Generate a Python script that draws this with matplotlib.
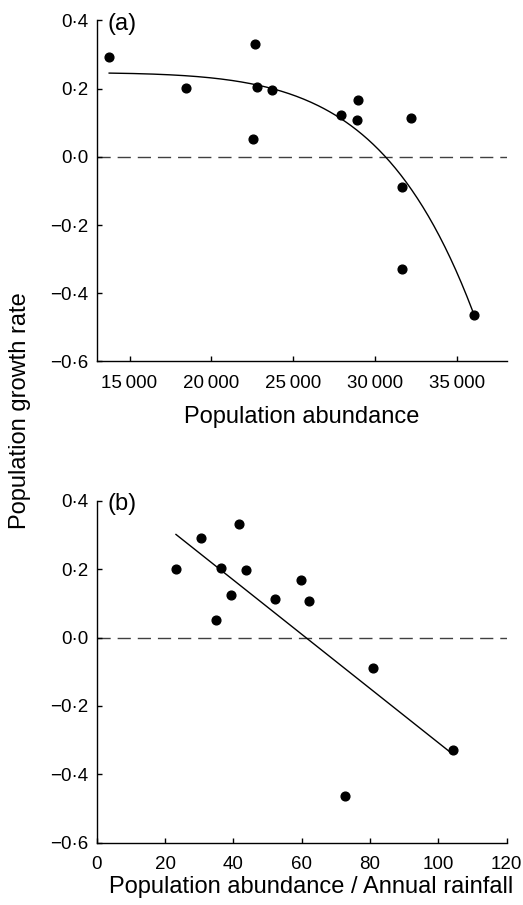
import numpy as np
import matplotlib

matplotlib.use("Agg")
import matplotlib.pyplot as plt
from matplotlib.ticker import FuncFormatter

plt.rcParams["font.family"] = ["Liberation Sans", "DejaVu Sans"]

# growth rate of each year, shared by both panels
growth_rate = [0.292, 0.201, 0.331, 0.204, 0.197, 0.052, 0.124, 0.167, 0.107, 0.113, -0.089, -0.328, -0.464]
# (a) population abundance for the same years
abundance = [13760, 18440, 22670, 22770, 23680, 22530, 27910, 28930, 28880, 32140, 31630, 31590, 36020]
# (b) abundance / annual rainfall for the same years
abundance_per_rain = [30.5, 23.2, 41.7, 36.5, 43.8, 34.9, 39.2, 59.8, 62.0, 52.2, 80.8, 104.2, 72.6]

# theta-logistic fit shown in panel (a)
r_max = 0.247
carrying_capacity = 30610
theta = 6.5

y_ticks = [-0.6, -0.4, -0.2, 0.0, 0.2, 0.4]
x_ticks_a = [15000, 20000, 25000, 30000, 35000]
x_ticks_b = [0, 20, 40, 60, 80, 100, 120]


def rate_label(v, _pos=None):
    s = f"{abs(v):.1f}".replace(".", "\u00b7")
    return ("\u2212" + s) if v < -1e-9 else s


def thousands_label(v, _pos=None):
    return f"{v:,.0f}".replace(",", "\u2009")


def style_axis(ax, tag):
    for side in ("top", "right"):
        ax.spines[side].set_visible(False)
    for side in ("left", "bottom"):
        ax.spines[side].set_linewidth(1.0)
    ax.tick_params(direction="in", length=3.5, width=1.0, labelsize=13.5)
    ax.tick_params(axis="y", pad=6)
    ax.tick_params(axis="x", pad=9.5)
    ax.set_ylim(-0.6, 0.4)
    ax.set_yticks(y_ticks)
    ax.yaxis.set_major_formatter(FuncFormatter(rate_label))
    ax.axhline(0, color="#404040", lw=1.0, ls=(0, (9.5, 5)), zorder=1)
    ax.text(0.026, 0.99, tag, transform=ax.transAxes, ha="left", va="center", fontsize=17)


fig = plt.figure(figsize=(5.23, 9.05), dpi=100)
ax_a = fig.add_axes([0.1849, 0.6006, 0.7839, 0.3768])
ax_b = fig.add_axes([0.1849, 0.0688, 0.7839, 0.3779])

# panel (a)
n = np.asarray(abundance, dtype=float)
n_line = np.linspace(n.min(), n.max(), 200)
r_line = r_max * (1 - (n_line / carrying_capacity) ** theta)
ax_a.plot(n_line, r_line, color="black", lw=1.0, zorder=2)
ax_a.plot(abundance, growth_rate, "o", color="black", ms=6.3, zorder=3)
ax_a.set_xlim(13000, 38000)
ax_a.set_xticks(x_ticks_a)
ax_a.xaxis.set_major_formatter(FuncFormatter(thousands_label))
ax_a.set_xlabel("Population abundance", fontsize=17, labelpad=10)
style_axis(ax_a, "(a)")

# panel (b): least-squares line
ratio = np.asarray(abundance_per_rain, dtype=float)
slope, intercept = np.polyfit(ratio, growth_rate, 1)
x_fit = np.array([ratio.min(), ratio.max()])
ax_b.plot(x_fit, intercept + slope * x_fit, color="black", lw=1.0, zorder=2)
ax_b.plot(abundance_per_rain, growth_rate, "o", color="black", ms=6.3, zorder=3)
ax_b.set_xlim(0, 120)
ax_b.set_xticks(x_ticks_b)
ax_b.set_xlabel("Population abundance / Annual rainfall", fontsize=17, labelpad=2)
ax_b.xaxis.label.set_x(0.524)
style_axis(ax_b, "(b)")

fig.text(20 / 523, 1 - 411 / 905, "Population growth rate", rotation=90,
         ha="center", va="center", fontsize=17)

fig.savefig("out.png", dpi=100)
plt.close(fig)
